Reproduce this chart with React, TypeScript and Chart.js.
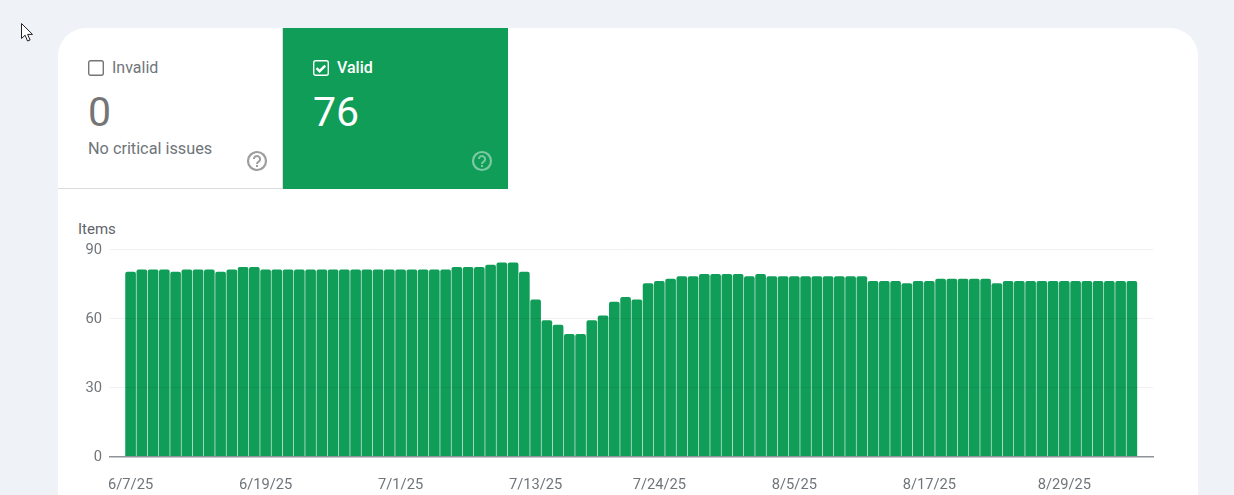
import React, { useEffect, useRef } from "react";
import { Chart, registerables } from "chart.js";

Chart.register(...registerables);

const values = [
  80, 81, 81, 81, 80, 81, 81, 81, 80, 81, 82, 82, 81, 81, 81, 81, 81, 81, 81, 81,
  81, 81, 81, 81, 81, 81, 81, 81, 81, 82, 82, 82, 83, 84, 84, 80, 68, 59, 57, 53,
  53, 59, 61, 67, 69, 68, 75, 76, 77, 78, 78, 79, 79, 79, 79, 78, 79, 78, 78, 78,
  78, 78, 78, 78, 78, 78, 76, 76, 76, 75, 76, 76, 77, 77, 77, 77, 77, 75, 76, 76,
  76, 76, 76, 76, 76, 76, 76, 76, 76, 76,
];
const tickPositions = [0, 12, 24, 36, 47, 59, 71, 83];
const tickLabels = ["6/7/25", "6/19/25", "7/1/25", "7/13/25", "7/24/25", "8/5/25", "8/17/25", "8/29/25"];
const yTicks = [0, 30, 60, 90];

const GREEN = "#0F9D58";
const GREY = "#70757A";
const FONT = "Roboto";

function Help({ x, y, color, opacity }: { x: number; y: number; color: string; opacity: number }) {
  return (
    <svg width="22" height="22" viewBox="0 0 22 22" style={{ position: "absolute", left: x - 11, top: y - 11, opacity }}>
      <circle cx="11" cy="11" r="9" fill="none" stroke={color} strokeWidth="2.2" />
      <path d="M7.9 9.1a3.1 3.1 0 1 1 4.9 2.5c-1 .7-1.8 1.2-1.8 2.4" fill="none" stroke={color} strokeWidth="2" />
      <rect x="10" y="15" width="2" height="2" fill={color} />
    </svg>
  );
}

function Box({ x, y, color, checked, stroke }: { x: number; y: number; color: string; checked: boolean; stroke: string }) {
  return (
    <svg width="16" height="16" viewBox="0 0 16 16" style={{ position: "absolute", left: x, top: y }}>
      <rect x="0.7" y="0.7" width="14.6" height="14.6" rx="2" fill="none" stroke={color} strokeWidth="1.4" />
      {checked && <path d="M3.6 8.2l3 3 5.6-5.6" fill="none" stroke={stroke} strokeWidth="2.4" />}
    </svg>
  );
}

function Label(props: { x: number; y: number; size: number; color: string; weight?: number; children: React.ReactNode }) {
  return (
    <div
      style={{
        position: "absolute",
        left: props.x,
        top: props.y,
        fontFamily: FONT,
        fontSize: props.size,
        lineHeight: "1",
        color: props.color,
        fontWeight: props.weight ?? 400,
        whiteSpace: "nowrap",
      }}
    >
      {props.children}
    </div>
  );
}

export default function App() {
  const ref = useRef<HTMLCanvasElement>(null);

  useEffect(() => {
    const chart = new Chart(ref.current!, {
      type: "bar",
      data: {
        datasets: [
          {
            label: "Valid",
            data: values.map((y, x) => ({ x, y })),
            backgroundColor: GREEN,
            barThickness: 10,
            borderRadius: { topLeft: 2, topRight: 2, bottomLeft: 0, bottomRight: 0 },
            borderSkipped: "bottom",
          },
        ],
      },
      options: {
        animation: false,
        responsive: false,
        devicePixelRatio: 1,
        layout: { padding: { left: 0, right: 45, top: 59, bottom: 0 } },
        plugins: { legend: { display: false }, tooltip: { enabled: false }, title: { display: false } },
        scales: {
          x: {
            type: "linear",
            offset: false,
            min: -1.83,
            max: 90.88,
            grid: { display: false, drawTicks: false, offset: false },
            border: { display: true, color: "#8F9398", width: 1.5, z: 2 },
            afterBuildTicks: (s: any) => {
              s.ticks = tickPositions.map((value) => ({ value }));
            },
            afterFit: (s: any) => {
              s.height = 38.5;
            },
            ticks: {
              autoSkip: false,
              maxRotation: 0,
              padding: 20,
              color: GREY,
              font: { family: FONT, size: 14.7 },
              callback: (v: any) => tickLabels[tickPositions.indexOf(Number(v))] ?? "",
            },
          },
          y: {
            min: 0,
            max: 90,
            afterBuildTicks: (s: any) => {
              s.ticks = yTicks.map((value) => ({ value }));
            },
            afterFit: (s: any) => {
              s.width = 52;
            },
            grid: { color: "rgba(0,0,0,0.06)", drawTicks: false, z: 1 },
            border: { display: false },
            ticks: { padding: 8, labelOffset: 1, color: GREY, font: { family: FONT, size: 14.7 } },
          },
        },
      },
    } as any);
    return () => chart.destroy();
  }, []);

  return (
    <div style={{ position: "absolute", left: 0, top: 0, width: 1234, height: 495, overflow: "hidden", background: "#EFF3F8" }}>
      <svg width="14" height="21" viewBox="0 0 14 21" style={{ position: "absolute", left: 20, top: 22 }}>
        <path d="M1.5 1.5v15l3.6-3.3 2.4 5.8 2.6-1-2.5-5.6h4.9z" fill="#fff" stroke="#222" strokeWidth="1" />
      </svg>

      <div style={{ position: "absolute", left: 58, top: 28, width: 1140, height: 467, background: "#fff", borderRadius: "28px 28px 0 0" }} />
      <div style={{ position: "absolute", left: 58, top: 188, width: 225, height: 1, background: "#DADCE0" }} />
      <div style={{ position: "absolute", left: 282, top: 28, width: 1, height: 161, background: "#DADCE0" }} />
      <div style={{ position: "absolute", left: 283, top: 28, width: 225, height: 161, background: GREEN }} />

      <Box x={88} y={60} color="#757575" checked={false} stroke="#fff" />
      <Label x={112} y={59.5} size={16} color={GREY}>Invalid</Label>
      <Label x={88} y={92} size={41} color="#757575">0</Label>
      <Label x={88} y={141} size={16.25} color={GREY}>No critical issues</Label>
      <Help x={257} y={161} color="#9E9E9E" opacity={1} />

      <Box x={313} y={60} color="#fff" checked={true} stroke="#fff" />
      <Label x={337} y={59.5} size={16} color="#fff" weight={500}>Valid</Label>
      <Label x={313} y={92} size={41} color="#fff">76</Label>
      <Help x={482} y={161} color="#fff" opacity={0.45} />

      <Label x={78} y={221.5} size={15} color="#5F6368">Items</Label>

      <canvas ref={ref} width={1140} height={305} style={{ position: "absolute", left: 58, top: 190, width: 1140, height: 305 }} />
    </div>
  );
}
